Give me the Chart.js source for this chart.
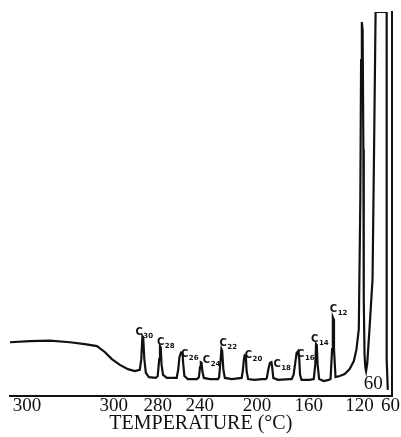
<!DOCTYPE html>
<html><head><meta charset="utf-8">
<script src="https://cdn.jsdelivr.net/npm/chart.js@4/dist/chart.umd.min.js"></script>
<style>html,body{margin:0;padding:0;background:#fff;}canvas{display:block}</style>
</head><body>
<canvas id="c" width="401" height="437"></canvas>
<script>
// Retention position along the recorder chart (0-100) and detector signal (0-100, full scale)
const retention = [0,5.2,10.5,15.7,19.6,22.8,24.9,26.7,28.8,30.9,32.7,34.0,34.4,34.7,34.9,35.2,35.6,36.4,38.2,38.7,39.1,39.3,39.5,39.7,40.1,41.1,43.5,43.7,44.1,44.4,44.8,45.2,45.4,45.7,46.6,49.0,49.5,49.8,50.0,50.2,50.4,50.8,52.4,54.5,54.8,55.2,55.4,55.6,55.9,56.3,58.1,60.7,61.0,61.3,61.5,61.8,62.0,62.4,64.1,66.0,67.0,67.3,67.7,68.1,68.5,68.7,69.0,70.2,73.3,73.8,74.3,74.7,75.1,75.5,75.8,76.0,76.4,78.5,79.6,80.0,80.2,80.4,80.6,81.0,82.2,83.5,84.0,84.4,84.6,84.8,84.9,85.3,86.4,87.7,89.0,90.1,90.8,91.4,91.8,92.0,92.2,92.4,92.6,92.7,92.9,93.1,93.3,93.6,94.2,95.0,95.4,95.8,98.7,98.7,98.7,99.0];
const signal    = [14.0,14.3,14.4,14.0,13.5,13.0,11.4,9.6,8.1,7.0,6.5,6.8,9.6,15.6,15.3,9.6,6.0,4.9,4.7,5.2,9.6,13.0,12.7,8.3,5.5,4.7,4.7,4.9,7.0,10.1,11.3,11.2,8.3,5.2,4.4,4.4,4.9,7.5,8.8,8.7,6.5,4.7,4.4,4.4,4.9,9.6,12.2,11.7,7.0,4.7,4.4,4.7,6.5,9.6,10.6,10.4,6.5,4.4,4.2,4.4,4.4,4.7,7.0,8.6,8.8,7.5,4.7,4.2,4.4,4.4,5.5,8.3,11.2,11.7,9.6,5.5,4.2,4.2,4.4,8.3,13.5,13.2,8.3,4.4,3.9,4.2,4.4,12.2,20.5,20.0,12.2,4.9,5.2,5.7,7.0,9.1,12.2,17.4,51.2,87.5,97.4,95.3,64.2,25.2,10.9,7.5,6.5,8.3,17.4,30.4,64.2,100,100,51.2,9.6,1.6];

const peakNames = ['30','28','26','24','22','20','18','16','14','12'];
const peakRetention = [34.7,39.3,44.8,50.0,55.4,61.5,68.5,75.5,80.2,84.6];

const tickPositions = [4.45,27.2,38.7,49.7,64.7,78.3,91.6,99.7];
const tickLabels = ['300','300','280','240','200','160','120','60'];

const holdLabel = '60';
const holdPosition = [95.2, 3.1];

const annot = {
  id: 'annot',
  afterDatasetsDraw(chart, args, opts) {
    const ctx = chart.ctx, xs = chart.scales.x, ys = chart.scales.y;
    ctx.save();
    ctx.fillStyle = '#111';
    ctx.textBaseline = 'middle';
    ctx.textAlign = 'left';
    peakNames.forEach((n, i) => {
      const r = peakRetention[i];
      let top = -Infinity;
      retention.forEach((x, j) => { if (Math.abs(x - r) <= 0.5 && signal[j] > top) top = signal[j]; });
      const [dx, dy] = opts.offsets[i];
      const px = xs.getPixelForValue(r) + dx, py = ys.getPixelForValue(top) + dy;
      ctx.font = 'bold 10px "DejaVu Sans"';
      ctx.fillText('C', px, py);
      const w = ctx.measureText('C').width;
      ctx.font = 'bold 7px "DejaVu Sans"';
      ctx.fillText(n, px + w + 0.5, py + 4);
    });
    ctx.textAlign = 'center';
    ctx.font = '19px "Liberation Serif"';
    ctx.fillText(holdLabel, xs.getPixelForValue(holdPosition[0]), ys.getPixelForValue(holdPosition[1]));
    ctx.restore();
  }
};

new Chart(document.getElementById('c'), {
  type: 'line',
  data: {
    datasets: [{
      data: retention.map((x, i) => ({x, y: signal[i]})),
      borderColor: '#111',
      borderWidth: 2.2,
      pointRadius: 0,
      tension: 0,
      fill: false
    }]
  },
  options: {
    responsive: false,
    animation: false,
    layout: { padding: { left: 10, right: 8, top: 12, bottom: 0 } },
    plugins: {
      legend: { display: false },
      tooltip: { enabled: false },
      annot: { offsets: [[-7,-4],[-3,-4],[0,2],[2,-2],[-2,-6],[0,0],[2,2],[-1,3],[-5,-5],[-3,-8]] }
    },
    scales: {
      x: {
        type: 'linear', min: 0, max: 100,
        afterBuildTicks: (scale) => { scale.ticks = tickPositions.map(v => ({ value: v })); },
        ticks: {
          autoSkip: false, maxRotation: 0, minRotation: 0, padding: 1,
          color: '#111',
          font: { family: '"Liberation Serif"', size: 19, lineHeight: 1 },
          callback: (v, i) => tickLabels[i]
        },
        grid: { display: false, drawTicks: false },
        border: { display: true, color: '#111', width: 2 },
        title: {
          display: true, text: 'TEMPERATURE (°C)', color: '#111',
          font: { family: '"Liberation Serif"', size: 20, lineHeight: 1 },
          padding: { top: -3, bottom: 3 }
        }
      },
      y: {
        type: 'linear', position: 'right', min: 0, max: 100,
        ticks: { display: false },
        grid: { display: false, drawTicks: false },
        border: { display: true, color: '#111', width: 2 }
      }
    }
  },
  plugins: [annot]
});
</script>
</body></html>
